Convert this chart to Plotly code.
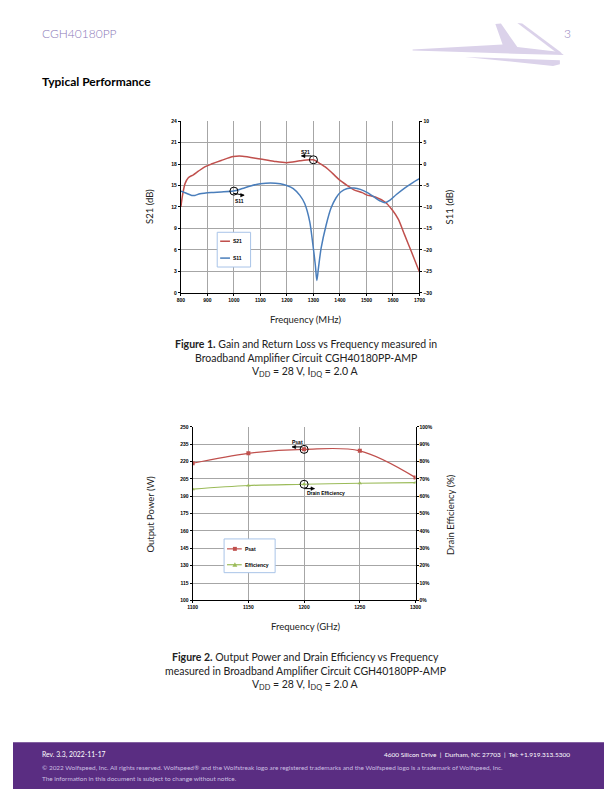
import plotly.graph_objects as go

# ---------------- Figure 1 data ----------------
s21_freq = [800, 806, 816, 828, 847, 866, 890, 915, 952, 998, 1032, 1100, 1150, 1199, 1249,
            1286, 1300, 1323, 1348, 1372, 1398, 1428, 1453, 1484, 1500, 1533, 1570, 1599,
            1620, 1644, 1669, 1700]
s21_db = [12.0, 13.6, 15.3, 16.1, 16.5, 17.0, 17.6, 18.0, 18.5, 19.05, 19.1, 18.7, 18.4, 18.2, 18.45,
          18.6, 18.6, 18.1, 17.5, 16.7, 15.8, 15.0, 14.4, 14.0, 13.7, 13.4, 12.7, 11.5,
          10.3, 8.1, 5.8, 2.9]

s11_freq = [800, 816, 841, 853, 872, 915, 952, 998, 1032, 1063, 1100, 1138, 1175, 1199, 1224,
            1249, 1267, 1286, 1298, 1307, 1313, 1319, 1329, 1348, 1366, 1385, 1403, 1428,
            1453, 1477, 1502, 1527, 1552, 1570, 1589, 1613, 1644, 1675, 1700]
s11_db = [-6.3, -6.7, -7.3, -7.3, -6.9, -6.6, -6.5, -6.3, -5.7, -5.1, -4.6, -4.4, -4.6, -5.0, -5.7,
          -7.3, -9.2, -13.4, -18.8, -23.4, -27.1, -24.2, -19.6, -14.2, -10.3, -7.9, -6.5, -5.7,
          -5.6, -5.9, -6.6, -7.6, -8.6, -9.0, -8.4, -7.1, -5.6, -4.3, -3.4]

fig1_x_ticks = [800, 900, 1000, 1100, 1200, 1300, 1400, 1500, 1600, 1700]

# ---------------- Figure 2 data ----------------
f2_freq = [1100, 1150, 1200, 1250, 1300]
psat_w = [218.5, 227.1, 230.5, 229.2, 206.1]
drain_eff = [0.641, 0.662, 0.669, 0.675, 0.679]

RED = "#c0504d"
BLUE = "#4a7ebb"
GREEN = "#9bbb59"
GRID = "#a6a6a6"

# the page keeps the browser's default 8px body margin (top/left offset)
OFF = 8
W, H = 612 - OFF, 792 - OFF


def px(x):
    return (x - OFF) / W


def py(y):
    return 1 - (y - OFF) / H


fig = go.Figure()

fig.add_trace(go.Scatter(x=s21_freq, y=s21_db, name="S21", mode="lines",
                         line=dict(color=RED, width=1.5, shape="spline", smoothing=0.8),
                         xaxis="x", yaxis="y", showlegend=False))
fig.add_trace(go.Scatter(x=s11_freq, y=s11_db, name="S11", mode="lines",
                         line=dict(color=BLUE, width=1.5, shape="spline", smoothing=0.8),
                         xaxis="x", yaxis="y2", showlegend=False))
fig.add_trace(go.Scatter(x=f2_freq, y=psat_w, name="Psat", mode="lines+markers",
                         line=dict(color=RED, width=1.2, shape="spline", smoothing=1.0),
                         marker=dict(symbol="square", size=4, color=RED),
                         xaxis="x3", yaxis="y3", showlegend=False))
fig.add_trace(go.Scatter(x=f2_freq, y=drain_eff, name="Efficiency", mode="lines+markers",
                         line=dict(color=GREEN, width=1.2, shape="spline", smoothing=1.0),
                         marker=dict(symbol="triangle-up", size=4, color=GREEN),
                         xaxis="x3", yaxis="y4", showlegend=False))

tickfont = dict(family="Liberation Sans", size=5, color="black", weight="bold")

common_axis = dict(showline=True, linecolor="black", linewidth=1, ticks="outside",
                   ticklen=2, tickcolor="black", tickfont=tickfont, zeroline=False)

fig.update_layout(
    width=W, height=H,
    margin=dict(l=0, r=0, t=0, b=0),
    paper_bgcolor="white", plot_bgcolor="white",
    showlegend=False,
    xaxis=dict(domain=[px(179), px(422)], range=[800, 1700], tickvals=fig1_x_ticks,
               showgrid=True, gridcolor=GRID, gridwidth=1, anchor="y", **common_axis),
    yaxis=dict(domain=[py(292), py(119)], range=[0, 24], dtick=3, tick0=0,
               showgrid=True, gridcolor=GRID, gridwidth=1, anchor="x", **common_axis),
    yaxis2=dict(range=[-30, 10], dtick=5, tick0=-30, overlaying="y", side="right",
                anchor="x", showgrid=False, **common_axis),
    xaxis3=dict(domain=[px(191), px(418)], range=[1100, 1300], dtick=50, tick0=1100,
                showgrid=True, gridcolor=GRID, gridwidth=1, anchor="y3", **common_axis),
    yaxis3=dict(domain=[py(602), py(427)], range=[100, 250], dtick=15, tick0=100,
                showgrid=True, gridcolor=GRID, gridwidth=1, anchor="x3", **common_axis),
    yaxis4=dict(range=[0, 1], dtick=0.1, tick0=0, tickformat=".0%", overlaying="y3",
                side="right", anchor="x3", showgrid=False, **common_axis),
)

shapes = []
annotations = []


def poly_px(points, color, layer="below"):
    parts = []
    for i, (xv, yv) in enumerate(points):
        parts.append(("M " if i == 0 else "L ") + f"{px(xv):.5f},{py(yv):.5f}")
    shapes.append(dict(type="path", xref="paper", yref="paper", path=" ".join(parts) + " Z",
                       fillcolor=color, line=dict(width=0), layer=layer))


# ---- Header ----
LOGO = "#dbd2ea"
poly_px([(415, 46.7), (506.7, 41.7), (499.3, 21), (505, 20.7), (521.7, 44.3), (565, 49.3),
         (569, 52.3), (518.3, 51), (415, 47.9)], LOGO)
poly_px([(521.7, 20), (526.7, 20.7), (566.7, 50), (561.7, 50)], LOGO)
poly_px([(468.3, 54.3), (565, 57.7), (565, 61.7), (558, 63.3)], LOGO)

HDR = dict(family="Lato", size=12, color="#8a78b8", weight=300)
annotations.append(dict(text="CGH40180PP", x=px(35), y=py(31), xref="paper", yref="paper",
                        xanchor="left", yanchor="middle", showarrow=False, font=HDR))
annotations.append(dict(text="3", x=px(578), y=py(31), xref="paper", yref="paper",
                        xanchor="right", yanchor="middle", showarrow=False, font=HDR))
annotations.append(dict(text="<b>Typical Performance</b>", x=px(35), y=py(79), xref="paper",
                        yref="paper", xanchor="left", yanchor="middle", showarrow=False,
                        font=dict(family="Lato", size=12, color="black")))

# ---- Axis titles ----
TITLE_FONT = dict(family="Lato", size=9.5, color="#222222")
for txt, x, y, ang in [("S21 (dB)", 147, 205, -90), ("S11 (dB)", 453, 205, -90),
                       ("Frequency (MHz)", 306, 319, 0),
                       ("Output Power (W)", 148, 515, -90), ("Drain Efficiency (%)", 453, 515, -90),
                       ("Frequency (GHz)", 306, 628, 0)]:
    annotations.append(dict(text=txt, x=px(x), y=py(y), xref="paper", yref="paper",
                            xanchor="center", yanchor="middle", showarrow=False,
                            textangle=ang, font=TITLE_FONT))

# ---- Captions ----
CAP = dict(family="Lato", size=10.5, color="#222222")
captions = [
    ("<b>Figure 1.</b> Gain and Return Loss vs Frequency measured in", 344),
    ("Broadband Amplifier Circuit CGH40180PP-AMP", 358),
    ("V<sub>DD</sub> = 28 V, I<sub>DQ</sub> = 2.0 A", 372),
    ("<b>Figure 2.</b> Output Power and Drain Efficiency vs Frequency", 659),
    ("measured in Broadband Amplifier Circuit CGH40180PP-AMP", 673),
    ("V<sub>DD</sub> = 28 V, I<sub>DQ</sub> = 2.0 A", 687),
]
for txt, y in captions:
    annotations.append(dict(text=txt, x=px(306), y=py(y), xref="paper", yref="paper",
                            xanchor="center", yanchor="middle", showarrow=False, font=CAP))

# ---- In-chart callouts ----
LBL = dict(family="Liberation Sans", size=5, color="black", weight="bold")


def circle(xa, ya, xv, yv, r=4):
    shapes.append(dict(type="circle", xref=xa, yref=ya, xsizemode="pixel", ysizemode="pixel",
                       xanchor=xv, yanchor=yv, x0=-r, x1=r, y0=-r, y1=r,
                       line=dict(color="black", width=1)))


def arrow(xa, ya, xv, yv, tx, ty, direction):
    """Arrow with head at (xv, yv); tail offset (tx, ty) in pixels (y up)."""
    shapes.append(dict(type="line", xref=xa, yref=ya, xsizemode="pixel", ysizemode="pixel",
                       xanchor=xv, yanchor=yv, x0=tx, y0=ty, x1=0, y1=0,
                       line=dict(color="black", width=1)))
    if direction == "right":
        path = "M 0,0 L -3.5,1.8 L -3.5,-1.8 Z"
    else:
        path = "M 0,0 L 3.5,1.8 L 3.5,-1.8 Z"
    shapes.append(dict(type="path", xref=xa, yref=ya, xsizemode="pixel", ysizemode="pixel",
                       xanchor=xv, yanchor=yv, path=path, fillcolor="black",
                       line=dict(color="black", width=0.5)))


circle("x", "y2", 1000, -6.3)
circle("x", "y", 1300, 18.6)
circle("x3", "y3", 1200, 230.5)
circle("x3", "y4", 1200, 0.669)

arrow("x", "y2", 1038.6, -7.26, -11, 2, "right")
arrow("x", "y", 1255, 19.14, 10, 0, "left")
arrow("x3", "y3", 1189.3, 232.6, 10, 0, "left")
arrow("x3", "y4", 1209.3, 0.644, -10, 0, "right")

annotations.append(dict(text="S11", x=1022.5, y=-8.57, xref="x", yref="y2", showarrow=False,
                        font=LBL))
annotations.append(dict(text="S21", x=1268.5, y=19.65, xref="x", yref="y", showarrow=False,
                        font=LBL))
annotations.append(dict(text="Psat", x=1194, y=237.1, xref="x3", yref="y3", showarrow=False,
                        font=LBL))
annotations.append(dict(text="Drain Efficiency", x=1219.6, y=0.617, xref="x3", yref="y4",
                        showarrow=False, font=LBL))

# ---- Legends (drawn) ----
LEG_BORDER = "#a9c4e8"


def rect_px(x0, y0, x1, y1, **kw):
    shapes.append(dict(type="rect", xref="paper", yref="paper", x0=px(x0), x1=px(x1),
                       y0=py(y1), y1=py(y0), **kw))


def line_px(x0, y0, x1, y1, color, width):
    shapes.append(dict(type="line", xref="paper", yref="paper", x0=px(x0), x1=px(x1),
                       y0=py(y0), y1=py(y1), line=dict(color=color, width=width)))


rect_px(216, 231, 250, 266, fillcolor="white", line=dict(color=LEG_BORDER, width=1))
line_px(219, 240, 229, 240, RED, 1.5)
line_px(219, 257, 229, 257, BLUE, 1.5)
for txt, y in [("S21", 240), ("S11", 257)]:
    annotations.append(dict(text=txt, x=px(230), y=py(y), xref="paper", yref="paper",
                            xanchor="left", yanchor="middle", showarrow=False, font=LBL))

rect_px(223, 540, 275, 574, fillcolor="white", line=dict(color=LEG_BORDER, width=1))
line_px(226, 550, 241, 550, RED, 1.2)
line_px(226, 566, 241, 566, GREEN, 1.2)
rect_px(232, 548, 236, 552, fillcolor=RED, line=dict(width=0))
poly_px([(231.5, 568), (236.5, 568), (234, 563.5)], GREEN, layer="above")
for txt, y in [("Psat", 550), ("Efficiency", 566)]:
    annotations.append(dict(text=txt, x=px(242), y=py(y), xref="paper", yref="paper",
                            xanchor="left", yanchor="middle", showarrow=False, font=LBL))

# ---- Footer ----
rect_px(OFF, 745, 612, 792, fillcolor="#5a2d82", line=dict(width=0), layer="below")
FOOT = dict(family="Lato", size=6.8, color="white")
FOOT2 = dict(family="Lato", size=6.4, color="#cbbfe0")
annotations.append(dict(text="Rev. 3.3, 2022-11-17", x=px(35), y=py(757), xref="paper",
                        yref="paper", xanchor="left", yanchor="middle", showarrow=False, font=FOOT))
annotations.append(dict(text="4600 Silicon Drive  |  Durham, NC 27703  |  Tel: +1.919.313.5300",
                        x=px(577), y=py(757), xref="paper", yref="paper", xanchor="right",
                        yanchor="middle", showarrow=False, font=dict(FOOT, size=6.5)))
annotations.append(dict(text="© 2022 Wolfspeed, Inc. All rights reserved. Wolfspeed® and the Wolfstreak logo are registered trademarks and the Wolfspeed logo is a trademark of Wolfspeed, Inc.",
                        x=px(35), y=py(770), xref="paper", yref="paper", xanchor="left",
                        yanchor="middle", showarrow=False, font=FOOT2))
annotations.append(dict(text="The information in this document is subject to change without notice.",
                        x=px(35), y=py(781), xref="paper", yref="paper", xanchor="left",
                        yanchor="middle", showarrow=False, font=FOOT2))

fig.update_layout(shapes=shapes, annotations=annotations)
fig.write_html("out.html", config={"displayModeBar": False})
